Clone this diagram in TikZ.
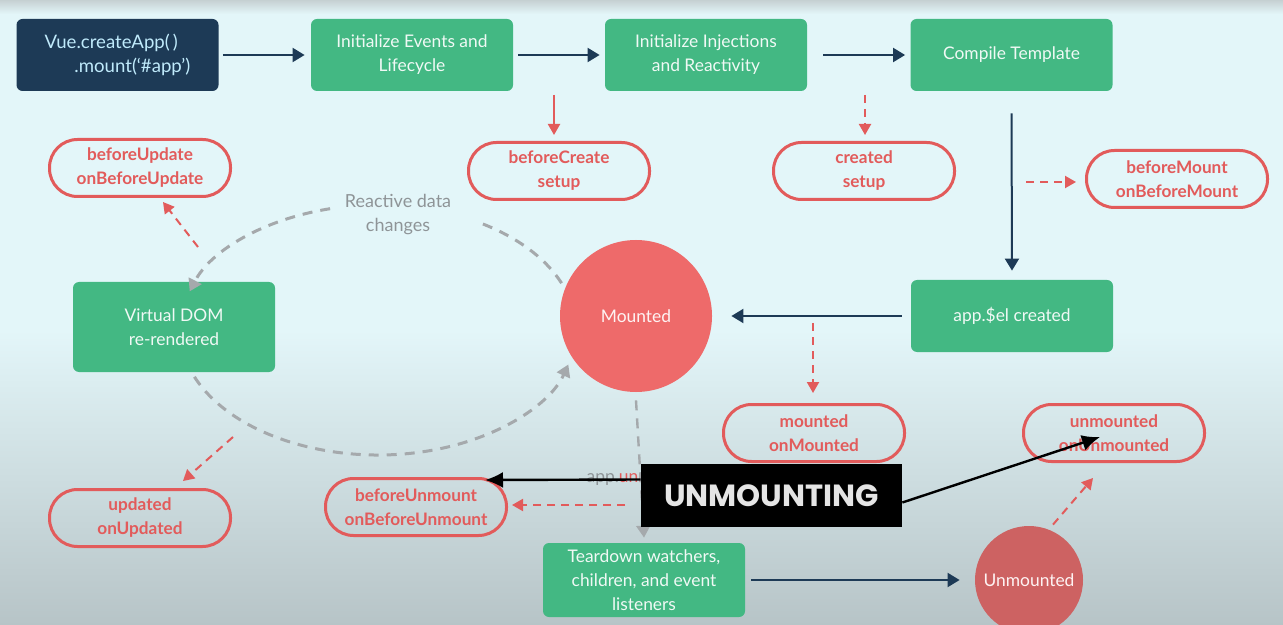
\documentclass[tikz,border=0pt]{standalone}
\usepackage{fontspec}
\setmainfont{Lato}
\newfontfamily\titlefont{Poppins}
\usepackage{xcolor}
\usepackage{tikz}
\usetikzlibrary{arrows.meta}
\usetikzlibrary{calc}

\definecolor{bgcyan}{HTML}{E3F6F9}
\definecolor{bggray}{HTML}{B7C4C7}
\definecolor{vuegreen}{HTML}{43B883}
\definecolor{vuenavy}{HTML}{1D3A56}
\definecolor{hookred}{HTML}{E25B5B}
\definecolor{circred}{HTML}{EE6A6A}
\definecolor{loopgray}{HTML}{8E9497}

\tikzset{
    greenbox/.style = {fill = vuegreen, rounded corners = 3pt, text = white!92!vuegreen,
        minimum width = 101pt, minimum height = 36pt, align = center, inner sep = 0pt},
    hookpill/.style = {draw = hookred, line width = 1.5pt, rounded corners = 14pt, text = hookred,
        minimum width = 90.5pt, minimum height = 28.5pt, align = center, inner sep = 0pt,
        font = \fontsize{8.6}{12}\selectfont\bfseries},
    bigcirc/.style = {circle, fill = circred, text = white!92!circred, inner sep = 0pt},
    navyarrow/.style = {draw = vuenavy, line width = 1pt,
        -{Triangle[length = 6pt, width = 7pt]}},
    hookarrow/.style = {draw = hookred, line width = 1pt,
        -{Triangle[length = 5.5pt, width = 6pt]}},
    hookdash/.style = {hookarrow, dash pattern = on 4pt off 3pt},
    cyc/.style = {draw = loopgray!80, line width = 1.5pt, dash pattern = on 5pt off 4pt},
    cycarrow/.style = {cyc, -{Triangle[length = 6pt, width = 7pt]}},
    callout/.style = {draw = black, line width = 1.2pt, -{Latex[length = 9pt, width = 8pt]}}
}

\begin{document}
\begin{tikzpicture}[x = 0.5pt, y = 0.5pt, font = \fontsize{8.7}{12}\selectfont]
        % background
        \useasboundingbox (0, 0) rectangle (1283, -625);
        \fill[bgcyan] (0, -14) rectangle (1283, -330);
        \shade[top color = bggray!80, bottom color = bgcyan] (0, 0) rectangle (1283, -14);
        \shade[top color = bgcyan, bottom color = bggray] (0, -330) rectangle (1283, -625);

        % creation row
        \node[greenbox, fill = vuenavy, text = cyan!25!white, align = left,
            font = \fontsize{9.3}{12}\selectfont] (vue) at (117.5, -55)
            {Vue.createApp(\,)\\ \hspace*{1.6em}.mount(`\#app')};
        \node[greenbox] (events) at (412, -55) {Initialize Events and\\ Lifecycle};
        \node[greenbox] (inject) at (706, -55) {Initialize Injections\\ and Reactivity};
        \node[greenbox] (compile) at (1011.5, -55) {Compile Template};
        \node[greenbox] (appel) at (1012, -316) {app.\$el created};

        \node[hookpill] (bcreate) at (559, -171) {beforeCreate\\ setup};
        \node[hookpill] (created) at (864, -171) {created\\ setup};
        \node[hookpill] (bmount) at (1177, -179) {beforeMount\\ onBeforeMount};
        \node[hookpill] (mountedhook) at (814, -433) {mounted\\ onMounted};

        \node[bigcirc, minimum size = 76pt] (mounted) at (636, -316) {Mounted};

        \draw[navyarrow] ([xshift = 2pt]vue.east) -- ([xshift = -3pt]events.west);
        \draw[navyarrow] ([xshift = 2.5pt]events.east) -- ([xshift = -2.5pt]inject.west);
        \draw[navyarrow] ([xshift = 8pt]inject.east) -- ([xshift = -2.5pt]compile.west);
        \draw[navyarrow] ([yshift = -11pt]compile.south) -- ([yshift = 4.5pt]appel.north);
        \draw[navyarrow] ([xshift = -4.5pt]appel.west) -- ([xshift = 9.5pt]mounted.east);

        \draw[hookarrow] ([shift = {(-2.5pt, 23pt)}]bcreate.north) -- ([shift = {(-2.5pt, 3pt)}]bcreate.north);
        \draw[hookdash] ([shift = {(0.5pt, 23pt)}]created.north) -- ([shift = {(0.5pt, 3pt)}]created.north);
        \draw[hookdash] ([shift = {(-29.5pt, -1.5pt)}]bmount.west) -- ([shift = {(-4.5pt, -1.5pt)}]bmount.west);
        \draw[hookdash] ([shift = {(-0.5pt, 40pt)}]mountedhook.north) -- ([shift = {(-0.5pt, 5pt)}]mountedhook.north);

        % update loop
        \node[greenbox, minimum height = 45pt] (vdom) at (174, -327) {Virtual DOM\\ re-rendered};
        \node[hookpill] (bupdate) at (140, -168) {beforeUpdate\\ onBeforeUpdate};
        \node[hookpill] (updated) at (140, -518) {updated\\ onUpdated};
        \node[text = loopgray, align = center, font = \fontsize{9}{12}\selectfont] (rdc) at (398, -215)
            {Reactive data\\ changes};

        \coordinate (loop) at (378, -330);
        \draw[cyc] ($(loop) + (22:99pt and 62.5pt)$) arc[start angle = 22, end angle = 60,
            x radius = 99pt, y radius = 62.5pt];
        \draw[cycarrow] ($(loop) + (104:99pt and 62.5pt)$) arc[start angle = 104, end angle = 162,
            x radius = 99pt, y radius = 62.5pt];
        \draw[cycarrow] ($(loop) + (202:99pt and 62.5pt)$) arc[start angle = 202, end angle = 344,
            x radius = 99pt, y radius = 62.5pt];

        \draw[hookdash] (198, -247) -- ([shift = {(11.5pt, -2pt)}]bupdate.south);
        \draw[hookdash] (233, -437) -- ([shift = {(21.5pt, 3.5pt)}]updated.north);

        % unmounting
        \node[greenbox, minimum height = 37pt] (teardown) at (644, -580)
            {Teardown watchers,\\ children, and event\\ listeners};
        \node[bigcirc, minimum size = 54pt, fill = circred!85!black!95] (unmounted) at (1029, -580) {Unmounted};
        \node[hookpill] (bunmount) at (416, -507) {beforeUnmount\\ onBeforeUnmount};
        \node[hookpill] (unmountedhook) at (1114, -433) {unmounted\\ onUnmounted};
        \node (appun) at (642, -477) {\textcolor{loopgray}{app.}\textcolor{hookred}{unmount()}};

        \draw[cycarrow, line width = 1.2pt] ([yshift = -4pt]mounted.south) -- ([yshift = 2.5pt]teardown.north);
        \draw[navyarrow] ([xshift = 3pt]teardown.east) -- ([xshift = -7.5pt]unmounted.west);
        \draw[hookdash] (625, -505) -- ([xshift = 2pt]bunmount.east |- 0, -505);
        \draw[hookdash] ([shift = {(12pt, 0.5pt)}]unmounted.north) -- (1093, -478);

        \node[fill = black, text = white!90!black, minimum width = 130.5pt, minimum height = 31.5pt,
            font = \titlefont\bfseries\fontsize{15.3}{15}\selectfont] (unm) at (771.5, -495.5) {UNMOUNTING};
        \draw[callout] ([yshift = 8pt]unm.west) -- (485, -480);
        \draw[callout] ([yshift = -3.5pt]unm.east) -- (1100, -437);
\end{tikzpicture}
\end{document}
